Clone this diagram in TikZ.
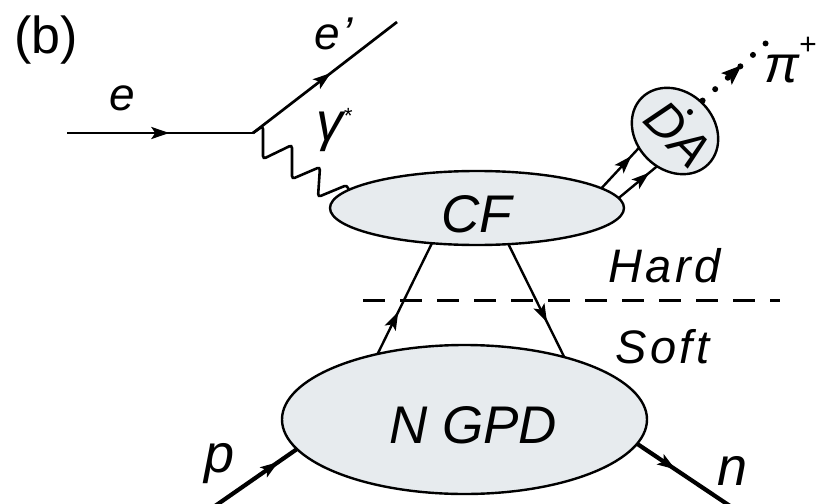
\documentclass[tikz,border=0pt]{standalone}
\usepackage{fontspec}
\setmainfont{Liberation Sans}
\usetikzlibrary{shapes.geometric,arrows.meta,decorations.markings}
\definecolor{blobfill}{RGB}{231,235,238}
\tikzset{
  lbl/.style={font=\itshape\fontsize{#1}{#1}\selectfont, inner sep=0pt, outer sep=0pt},
  blob/.style={draw, ellipse, fill=blobfill, line width=2.4pt, inner sep=0pt, outer sep=0pt},
  fermion/.style={line width=2.7pt},
  quark/.style={line width=2.4pt},
  heavy/.style={line width=4.2pt},
  midarrow/.style={postaction={decorate}, decoration={markings,
      mark=at position #1 with {\arrow{Stealth[length=18pt,width=12pt,inset=4pt]}}}},
  pionarrow/.style={postaction={decorate}, decoration={markings,
      mark=at position #1 with {\arrow{Stealth[length=20pt,width=15pt,inset=4pt]}}}},
}
\begin{document}
\begin{tikzpicture}[x=1pt,y=-1pt]
\clip (0,0) rectangle (816,503);

% blobs: hard part, nucleon GPD, pion distribution amplitude
\node[blob, minimum width=294pt, minimum height=74pt] (cf) at (477,208) {};
\node[blob, minimum width=365pt, minimum height=149pt] (ngpd) at (464.5,419.5) {};
\node[blob, minimum width=94pt, minimum height=78pt, rotate=-45] (da) at (675,131) {};

% lepton line and virtual photon
\coordinate (estart) at (67,133);
\coordinate (v) at (253,133);
\coordinate (eend) at (397,22);
\draw[fermion, midarrow=0.55] (estart) -- (v);
\draw[fermion, midarrow=0.54] (v) -- (eend);
\draw[line width=2.6pt, rounded corners=3pt] (v) -- ++(10,-7) -- ++(0,33) -- ++(29,-14)
  -- ++(0,34) -- ++(28,-12) -- ++(-2,30) -- ++(29,-12) -- (cf.172);

% quark lines between GPD and hard part
\draw[quark, midarrow=0.38] (ngpd.143) -- (cf.218);
\draw[quark, midarrow=0.69] (cf.311) -- (ngpd.32);

% hard / soft separation
\coordinate (cutL) at (363,300);
\coordinate (cutR) at (780,300);
\draw[line width=3pt, dash pattern=on 22pt off 15pt] (cutL) -- (cutR);

% nucleons
\coordinate (pstart) at (205,513);
\coordinate (nend) at (733,508);
\draw[heavy, midarrow=0.8] (pstart) -- (ngpd.190);
\draw[heavy, midarrow=0.4] (ngpd.352) -- (nend);

% quarks into the pion DA
\draw[quark, midarrow=0.8] (cf.9) -- (da.250);
\draw[quark, midarrow=0.8] (cf.4) -- (da.288);

% outgoing pion
\coordinate (dotstart) at (690,112);
\coordinate (dotend) at (776,34);
\draw[line width=6pt, line cap=round, dash pattern=on 0pt off 17pt, pionarrow=0.6] (dotstart) -- (dotend);

% labels
\node[font=\fontsize{52}{52}\selectfont, inner sep=0pt, anchor=base] (panel) at (46,53) {(b)};
\node[lbl=46, anchor=base] (elbl) at (122,110) {e};
\node[lbl=46, anchor=base west] (eplbl) at (314,50) {e\kern3pt’};
\node[lbl=54, anchor=base west] (gamlbl) at (316,140) {γ\raisebox{17pt}{\fontsize{22}{22}\selectfont *}};
\node[lbl=52, anchor=base west] (pilbl) at (764,82) {π\raisebox{28pt}{\fontsize{30}{30}\selectfont +}};
\node[lbl=53, anchor=base] (cflbl) at (477,232) {CF};
\node[lbl=53, anchor=base] (ngpdlbl) at (473,443) {N GPD};
\node[lbl=50, rotate=-45] (dalbl) at (678,134) {DA};
\node[lbl=47, anchor=base west] (hard) at (608,282) {\addfontfeature{LetterSpace=8}Hard};
\node[lbl=47, anchor=base west] (soft) at (615,363) {\addfontfeature{LetterSpace=8}Soft};
\node[lbl=54, anchor=base] (plbl) at (220,472) {p};
\node[lbl=54, anchor=base] (nlbl) at (733,485) {n};
\end{tikzpicture}
\end{document}
